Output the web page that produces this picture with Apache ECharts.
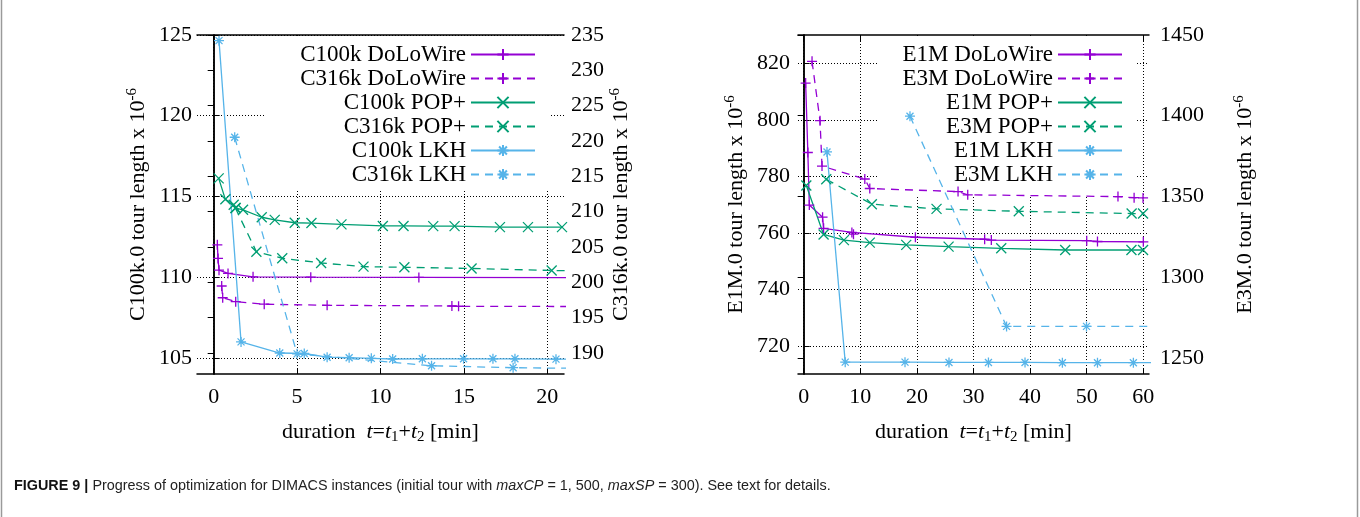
<!DOCTYPE html>
<html>
<head>
<meta charset="utf-8">
<script src="https://cdn.jsdelivr.net/npm/echarts@6/dist/echarts.min.js"></script>
<style>
html, body { margin: 0; padding: 0; background: #fff; }
#chart { width: 1360px; height: 517px; }
</style>
</head>
<body>
<div id="chart"></div>
<script>
// tick labels
var leftTimeTicks = [0, 5, 10, 15, 20];
var c100kTicks = [105, 110, 115, 120, 125];
var c316kTicks = [190, 195, 200, 205, 210, 215, 220, 225, 230, 235];
var rightTimeTicks = [0, 10, 20, 30, 40, 50, 60];
var e1mTicks = [720, 740, 760, 780, 800, 820];
var e3mTicks = [1250, 1300, 1350, 1400, 1450];

// duration [min] / tour length x 10^-6
var c100kDoloT = [0.22, 0.26, 0.32, 0.86, 2.36, 5.82, 12.3, 22];
var c100kDoloLen = [112.0, 111.16, 110.43, 110.23, 110.02, 110.0, 109.98, 109.97];
var c316kDoloT = [0.48, 0.54, 1.32, 3.03, 6.8, 14.28, 14.68, 22];
var c316kDoloLen = [199.46, 197.8, 197.24, 196.88, 196.73, 196.63, 196.59, 196.55];
var c100kPopT = [0.30, 0.70, 1.20, 1.32, 1.76, 2.88, 3.66, 4.86, 5.86, 7.66, 10.14, 11.38, 13.16, 14.44, 17.16, 18.84, 20.88];
var c100kPopLen = [116.12, 114.82, 114.48, 114.28, 114.17, 113.71, 113.55, 113.37, 113.35, 113.27, 113.17, 113.17, 113.16, 113.16, 113.10, 113.10, 113.10];
var c316kPopT = [1.30, 2.56, 4.11, 6.44, 8.98, 11.43, 15.46, 20.26, 22];
var c316kPopLen = [210.5, 204.32, 203.39, 202.72, 202.2, 202.11, 201.94, 201.66, 201.6];
var c100kLkhT = [0.32, 1.64, 3.96, 5.43, 6.80, 8.12, 9.45, 10.73, 12.51, 14.98, 16.74, 18.06, 20.52, 22];
var c100kLkhLen = [124.65, 105.99, 105.30, 105.27, 105.04, 105.01, 104.97, 104.93, 104.94, 104.94, 104.94, 104.94, 104.92, 104.92];
var c316kLkhT = [1.26, 5.0, 13.06, 17.95, 22];
var c316kLkhLen = [220.52, 189.85, 188.17, 187.89, 187.8];

var e1mDoloT = [0.35, 0.74, 1.0, 3.34, 3.52, 8.52, 8.8, 19.74, 31.97, 33.15, 50.0, 51.9, 60.0];
var e1mDoloLen = [813.0, 788.4, 769.8, 765.5, 761.55, 760.1, 759.5, 758.4, 757.7, 757.4, 757.2, 756.9, 756.8];
var e3mDoloT = [1.48, 2.89, 3.24, 10.8, 11.68, 27.27, 28.98, 55.52, 58.37, 59.95];
var e3mDoloLen = [1433.7, 1396.9, 1368.8, 1360.8, 1354.9, 1353.0, 1351.0, 1349.9, 1349.2, 1349.1];
var e1mPopT = [0.47, 3.52, 7.11, 11.68, 18.12, 25.6, 34.9, 46.2, 57.9, 59.95];
var e1mPopLen = [776.7, 759.4, 757.4, 756.5, 755.7, 755.1, 754.5, 753.9, 753.9, 753.9];
var e3mPopT = [3.99, 12.04, 23.47, 38.0, 57.93, 59.95];
var e3mPopLen = [1360.6, 1345.2, 1342.3, 1340.8, 1339.4, 1339.4];
var e1mLkhT = [4.12, 7.34, 17.9, 25.67, 32.64, 39.1, 45.7, 51.9, 58.24, 62];
var e1mLkhLen = [788.6, 714.2, 714.2, 714.1, 714.1, 714.1, 714.0, 714.0, 714.0, 714.0];
var e3mLkhT = [18.78, 35.84, 49.96, 62];
var e3mLkhLen = [1399.7, 1269.5, 1269.5, 1269.5];

var FONT = 'Liberation Serif';
var PURPLE = '#9400d3', GREEN = '#009e73', BLUE = '#56b4e9';
var PLUS = 'path://M5,0L5,10M0,5L10,5';
var CROSS = 'path://M0,0L10,10M10,0L0,10';
var STAR = 'path://M5,0L5,10M0,5L10,5M1.5,1.5L8.5,8.5M8.5,1.5L1.5,8.5';

function zip(t, v) {
	var out = [];
	for (var i = 0; i < t.length; i++) out.push([t[i], v[i]]);
	return out;
}

function curve(name, t, v, color, symbol, dashed, xi, yi) {
	return {
		name: name, type: 'line', xAxisIndex: xi, yAxisIndex: yi,
		data: zip(t, v), symbol: symbol, symbolSize: 10, showSymbol: true, clip: true,
		lineStyle: { color: color, width: 1.3, type: dashed ? [8, 6] : 'solid' },
		itemStyle: { color: color, borderColor: color, borderWidth: 1.3 },
		emphasis: { disabled: true }, z: 3
	};
}

var labelFont = { fontFamily: FONT, fontSize: 22, color: '#000' };
var gridLine = { color: '#000', width: 1, type: [1, 2] };
var nameRich = {
	a: { fontFamily: FONT, fontSize: 22, lineHeight: 26, color: '#000' },
	s: { fontFamily: FONT, fontSize: 15, lineHeight: 15, verticalAlign: 'top', color: '#000' },
	i: { fontFamily: FONT, fontSize: 22, lineHeight: 26, fontStyle: 'italic', color: '#000' },
	b: { fontFamily: FONT, fontSize: 15, lineHeight: 15, verticalAlign: 'bottom', color: '#000' }
};
var timeName = '{a|duration  }{i|t}{a|=}{i|t}{b|1}{a|+}{i|t}{b|2}{a| [min]}';

// plain numbers, no thousands separator
function plain(v) { return String(v); }

function xAx(gi, min, max, ticks, top) {
	return {
		type: 'value', gridIndex: gi, min: min, max: max, position: top ? 'top' : 'bottom',
		name: top ? '' : timeName, nameLocation: 'middle', nameGap: 45,
		nameTextStyle: { rich: nameRich },
		axisLine: { show: true, lineStyle: { color: '#000', width: 1.5 } },
		axisTick: { show: true, inside: true, length: 6, customValues: ticks, lineStyle: { color: '#000' } },
		axisLabel: { show: !top, margin: 12, customValues: ticks, formatter: plain, fontFamily: FONT, fontSize: 22, color: '#000' },
		splitLine: { show: !top, lineStyle: gridLine }
	};
}

function yAx(gi, min, max, ticks, right, name, gap, margin) {
	return {
		type: 'value', gridIndex: gi, min: min, max: max, position: right ? 'right' : 'left',
		name: '{a|' + name + ' tour length x 10}{s|-6}', nameLocation: 'middle', nameRotate: 90, nameGap: gap,
		nameTextStyle: { rich: nameRich },
		axisLine: { show: true, lineStyle: { color: '#000', width: 1.5 } },
		axisTick: { show: true, inside: true, length: 6, customValues: ticks, lineStyle: { color: '#000' } },
		axisLabel: { margin: margin, customValues: ticks, formatter: plain, fontFamily: FONT, fontSize: 22, color: '#000' },
		splitLine: { show: !right, lineStyle: gridLine }
	};
}

function key(names, right, pad) {
	return {
		data: names, orient: 'vertical', align: 'right', right: right, top: 36,
		itemWidth: 64, itemHeight: 14, itemGap: 1, padding: pad,
		backgroundColor: '#fff', z: 1, selectedMode: false,
		textStyle: { fontFamily: FONT, fontSize: 23, lineHeight: 22, color: '#000' }
	};
}

var chart = echarts.init(document.getElementById('chart'), null, { renderer: 'canvas' });
chart.setOption({
	animation: false,
	backgroundColor: '#fff',
	grid: [
		{ left: 197, top: 35, width: 367, height: 339 },
		{ left: 798, top: 35, width: 351, height: 339 }
	],
	xAxis: [
		xAx(0, -1, 21, leftTimeTicks, false),
		xAx(0, -1, 21, leftTimeTicks, true),
		xAx(1, -1, 61, rightTimeTicks, false),
		xAx(1, -1, 61, rightTimeTicks, true)
	],
	yAxis: [
		yAx(0, 104, 125, c100kTicks, false, 'C100k.0', 46, 5),
		yAx(0, 187, 235, c316kTicks, true, 'C316k.0', 38, 7),
		yAx(1, 710, 830, e1mTicks, false, 'E1M.0', 49, 8),
		yAx(1, 1240, 1450, e3mTicks, true, 'E3M.0', 83, 11)
	],
	legend: [
		key(['C100k DoLoWire', 'C316k DoLoWire', 'C100k POP+', 'C316k POP+', 'C100k LKH', 'C316k LKH'], 810, [7, 14, 3, 35]),
		key(['E1M DoLoWire', 'E3M DoLoWire', 'E1M POP+', 'E3M POP+', 'E1M LKH', 'E3M LKH'], 223, [7, 14, 10, 25])
	],
	series: [
		curve('C100k DoLoWire', c100kDoloT, c100kDoloLen, PURPLE, PLUS, false, 0, 0),
		curve('C316k DoLoWire', c316kDoloT, c316kDoloLen, PURPLE, PLUS, true, 0, 1),
		curve('C100k POP+', c100kPopT, c100kPopLen, GREEN, CROSS, false, 0, 0),
		curve('C316k POP+', c316kPopT, c316kPopLen, GREEN, CROSS, true, 0, 1),
		curve('C100k LKH', c100kLkhT, c100kLkhLen, BLUE, STAR, false, 0, 0),
		curve('C316k LKH', c316kLkhT, c316kLkhLen, BLUE, STAR, true, 0, 1),
		curve('E1M DoLoWire', e1mDoloT, e1mDoloLen, PURPLE, PLUS, false, 2, 2),
		curve('E3M DoLoWire', e3mDoloT, e3mDoloLen, PURPLE, PLUS, true, 2, 3),
		curve('E1M POP+', e1mPopT, e1mPopLen, GREEN, CROSS, false, 2, 2),
		curve('E3M POP+', e3mPopT, e3mPopLen, GREEN, CROSS, true, 2, 3),
		curve('E1M LKH', e1mLkhT, e1mLkhLen, BLUE, STAR, false, 2, 2),
		curve('E3M LKH', e3mLkhT, e3mLkhLen, BLUE, STAR, true, 2, 3)
	],
	graphic: [
		{ type: 'line', shape: { x1: 1.5, y1: 0, x2: 1.5, y2: 517 }, style: { stroke: '#9a9a9a', lineWidth: 1.5 } },
		{ type: 'line', shape: { x1: 1357.5, y1: 0, x2: 1357.5, y2: 517 }, style: { stroke: '#9a9a9a', lineWidth: 1.5 } },
		{
			type: 'text', left: 14, top: 479,
			style: {
				text: '{b|FIGURE 9 |} Progress of optimization for DIMACS instances (initial tour with {i|maxCP} = 1, 500, {i|maxSP} = 300). See text for details.',
				fontFamily: 'Liberation Sans', fontSize: 14.4, fill: '#222',
				rich: {
					b: { fontFamily: 'Liberation Sans', fontSize: 14.4, fontWeight: 'bold', fill: '#111' },
					i: { fontFamily: 'Liberation Sans', fontSize: 14.4, fontStyle: 'italic', fill: '#222' }
				}
			}
		}
	]
});
</script>
</body>
</html>
